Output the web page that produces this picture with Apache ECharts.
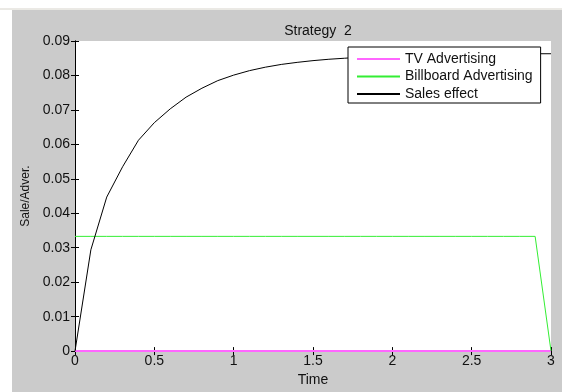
<!DOCTYPE html>
<html>
<head>
<meta charset="utf-8">
<script src="https://cdn.jsdelivr.net/npm/echarts@6/dist/echarts.min.js"></script>
<style>
html,body{margin:0;padding:0;background:#fff;}
#main{width:562px;height:392px;}
</style>
</head>
<body>
<div id="main"></div>
<script>
var time = [0,0.1,0.2,0.3,0.4,0.5,0.6,0.7,0.8,0.9,1.0,1.1,1.2,1.3,1.4,1.5,1.6,1.7,1.8,1.9,2.0,2.1,2.2,2.3,2.4,2.5,2.6,2.7,2.8,2.9,3.0];
var tvAdvertising = [0,0,0,0,0,0,0,0,0,0,0,0,0,0,0,0,0,0,0,0,0,0,0,0,0,0,0,0,0,0,0];
var billboardAdvertising = [0.0333,0.0333,0.0333,0.0333,0.0333,0.0333,0.0333,0.0333,0.0333,0.0333,0.0333,0.0333,0.0333,0.0333,0.0333,0.0333,0.0333,0.0333,0.0333,0.0333,0.0333,0.0333,0.0333,0.0333,0.0333,0.0333,0.0333,0.0333,0.0333,0.0333,0];
var salesEffect = [0,0.0294,0.0447,0.0535,0.0612,0.0663,0.0703,0.0737,0.0763,0.0785,0.0801,0.0814,0.0824,0.0832,0.0838,0.0843,0.0847,0.0850,0.0853,0.0855,0.0857,0.0858,0.0859,0.0860,0.0861,0.0861,0.0862,0.0862,0.0862,0.0863,0.0863];
var xTickLabels = ['0','0.5','1','1.5','2','2.5','3'];
var yTickLabels = ['0','0.01','0.02','0.03','0.04','0.05','0.06','0.07','0.08','0.09'];
var seriesNames = ['TV Advertising','Billboard Advertising','Sales effect'];

function zip(xs, ys){ return xs.map(function(x,i){ return [x, ys[i]]; }); }
var FONT = 'Liberation Sans, Arial, sans-serif';

var chart = echarts.init(document.getElementById('main'), null, {renderer:'canvas'});
var tickStyle = {show:true, inside:true, length:4, lineStyle:{color:'#000', width:1}};
var lineStyleAx = {show:true, lineStyle:{color:'#000', width:1}};
chart.setOption({
  animation:false,
  backgroundColor:'#fff',
  graphic:[
    {type:'rect', shape:{x:12, y:10, width:550, height:382}, style:{fill:'#cbcbcb'}, z:-10, silent:true},
    {type:'line', shape:{x1:0, y1:9, x2:562, y2:9}, style:{stroke:'#d6d3ca', lineWidth:1}, z:-10, silent:true}
  ],
  title:{
    text:'Strategy  2', left:313, top:19, textAlign:'center',
    textStyle:{fontFamily:FONT, fontSize:14, fontWeight:'normal', color:'#111'}
  },
  grid:{left:75, right:11, top:41, bottom:31, show:true, backgroundColor:'#fff', borderWidth:0},
  legend:{
    orient:'vertical', left:348, top:47,
    data:[
      {name:seriesNames[0], icon:'rect', itemStyle:{color:'#ff66ff'}},
      {name:seriesNames[1], icon:'rect', itemStyle:{color:'#33ee33'}},
      {name:seriesNames[2], icon:'rect', itemStyle:{color:'#000'}}
    ],
    backgroundColor:'#fff', borderColor:'#000', borderWidth:1, borderRadius:0,
    padding:[4,8,1,9], itemGap:1.5, itemWidth:43, itemHeight:2,
    textStyle:{fontFamily:FONT, fontSize:14, color:'#111', lineHeight:16}
  },
  xAxis:[
    {type:'value', min:0, max:3, interval:0.5, position:'bottom',
     name:'Time', nameLocation:'middle', nameGap:19,
     nameTextStyle:{fontFamily:FONT, fontSize:14, color:'#111'},
     axisLine:lineStyleAx, axisTick:tickStyle, splitLine:{show:false},
     axisLabel:{margin:3, fontFamily:FONT, fontSize:14, color:'#111',
       formatter:function(v){ return xTickLabels[Math.round(v/0.5)]; }}},
    {type:'value', min:0, max:3, interval:0.5, position:'top',
     axisLine:lineStyleAx, axisTick:tickStyle, splitLine:{show:false}, axisLabel:{show:false}}
  ],
  yAxis:[
    {type:'value', min:0, max:0.09, interval:0.01, position:'left',
     name:'Sale/Adver.', nameLocation:'middle', nameGap:42, nameRotate:90,
     nameTextStyle:{fontFamily:FONT, fontSize:12, color:'#111'},
     axisLine:lineStyleAx, axisTick:tickStyle, splitLine:{show:false},
     axisLabel:{margin:5, fontFamily:FONT, fontSize:14, color:'#111',
       formatter:function(v){ return yTickLabels[Math.round(v/0.01)]; }}},
    {type:'value', min:0, max:0.09, interval:0.01, position:'right',
     axisLine:lineStyleAx, axisTick:tickStyle, splitLine:{show:false}, axisLabel:{show:false}}
  ],
  series:[
    {name:seriesNames[0], type:'line', data:zip(time, tvAdvertising), symbol:'none', clip:false,
     lineStyle:{color:'#ff66ff', width:2}, itemStyle:{color:'#ff66ff'}, z:3},
    {name:seriesNames[1], type:'line', data:zip(time, billboardAdvertising), symbol:'none', clip:false,
     lineStyle:{color:'#33ee33', width:1}, itemStyle:{color:'#33ee33'}, z:3},
    {name:seriesNames[2], type:'line', data:zip(time, salesEffect), symbol:'none', clip:false,
     lineStyle:{color:'#000', width:1}, itemStyle:{color:'#000'}, z:3}
  ]
});
</script>
</body>
</html>
